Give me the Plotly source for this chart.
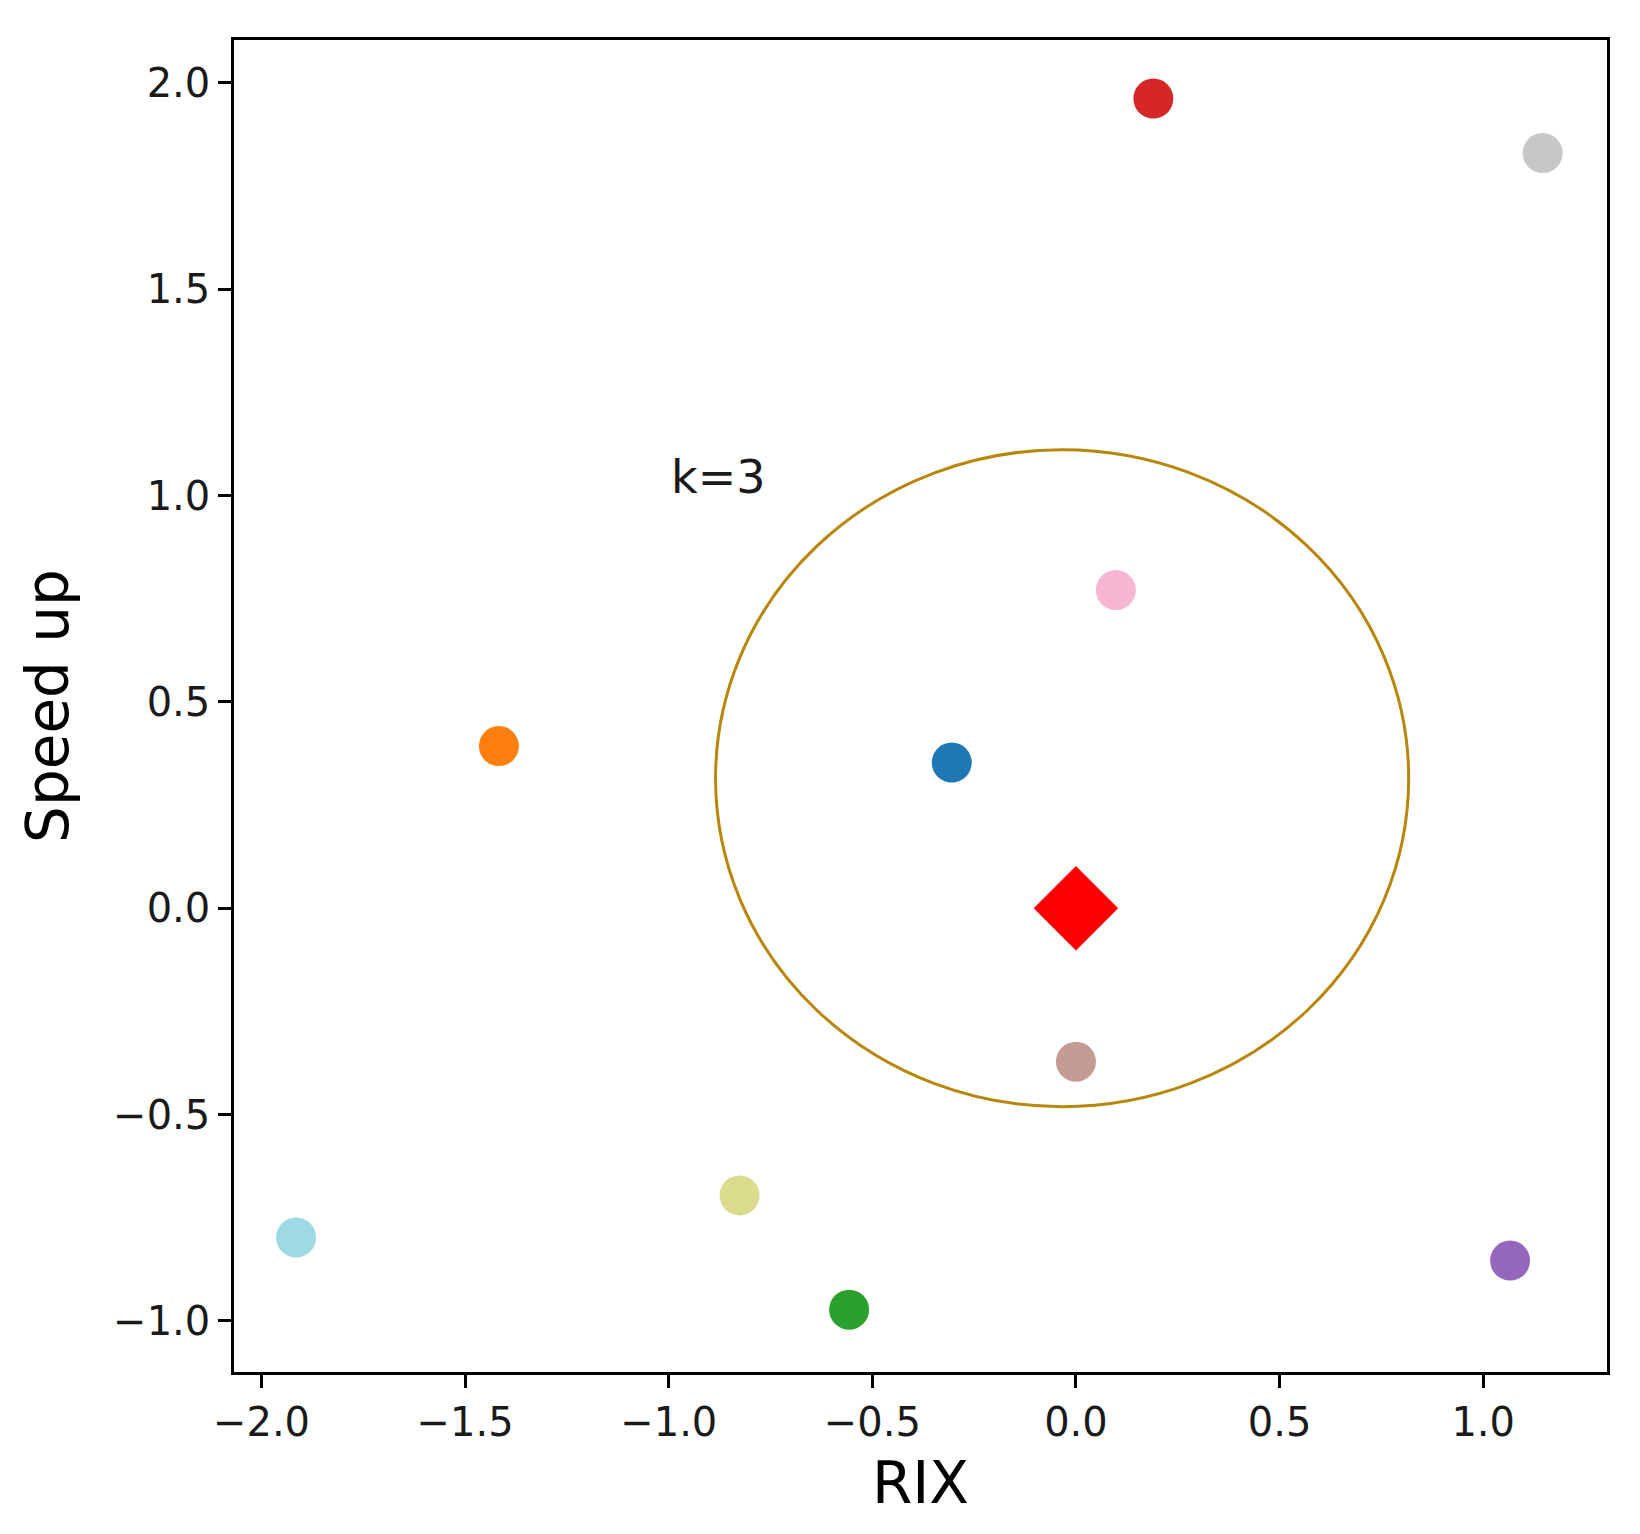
import plotly.graph_objects as go

# ---- data ----
point_x = [-0.305, -1.417, -0.557, 0.190, 1.066, 0.000, 0.098, 1.146, -0.826, -1.915]
point_y = [0.353, 0.393, -0.973, 1.962, -0.854, -0.372, 0.771, 1.830, -0.696, -0.798]
point_colors = ["#1f77b4", "#ff7f0e", "#2ca02c", "#d62728", "#9467bd",
                "#c49c94", "#f7b6d2", "#c7c7c7", "#dbdb8d", "#9edae5"]
query_x = [0.0]
query_y = [0.0]
circle_center = (-0.034, 0.315)
circle_rx = 0.851
circle_ry = 0.796
label_text = "k=3"
label_pos = (-1.0, 1.0)
x_ticks = [-2.0, -1.5, -1.0, -0.5, 0.0, 0.5, 1.0]
y_ticks = [-1.0, -0.5, 0.0, 0.5, 1.0, 1.5, 2.0]

FONT = "DejaVu Sans"

fig = go.Figure()
fig.add_trace(go.Scatter(
    x=point_x, y=point_y, mode="markers",
    marker=dict(size=40, color=point_colors, line=dict(width=0)),
    showlegend=False, hoverinfo="x+y"))
fig.add_trace(go.Scatter(
    x=query_x, y=query_y, mode="markers",
    marker=dict(size=65, symbol="diamond", color="#ff0000", line=dict(width=0)),
    showlegend=False))

fig.add_shape(type="circle", xref="x", yref="y",
              x0=circle_center[0] - circle_rx, x1=circle_center[0] + circle_rx,
              y0=circle_center[1] - circle_ry, y1=circle_center[1] + circle_ry,
              line=dict(color="#b8860b", width=3), layer="below")

fig.add_annotation(x=label_pos[0], y=label_pos[1], xref="x", yref="y",
                   text=label_text, showarrow=False, xanchor="left", yanchor="bottom",
                   yshift=-10,
                   font=dict(family=FONT, size=46, color="#1a1a1a"))

axis_common = dict(showgrid=False, zeroline=False, showline=True, linecolor="black",
                   linewidth=2.5, mirror=True, ticks="outside", ticklen=13, tickwidth=2.5,
                   tickcolor="black", tickfont=dict(family=FONT, size=40, color="#1a1a1a"),
                   tickformat=".1f")

fig.update_xaxes(range=[-2.0675, 1.304], tickvals=x_ticks,
                 title=dict(text="RIX", font=dict(family=FONT, size=58, color="black"), standoff=19),
                 **axis_common)
fig.update_yaxes(range=[-1.124, 2.104], tickvals=y_ticks,
                 title=dict(text="Speed up", font=dict(family=FONT, size=58, color="black"), standoff=26),
                 **axis_common)

fig.update_layout(width=1640, height=1534, plot_bgcolor="white", paper_bgcolor="white",
                  margin=dict(l=226, r=41, t=32, b=170, autoexpand=False),
                  font=dict(family=FONT))

fig.write_html("out.html")
